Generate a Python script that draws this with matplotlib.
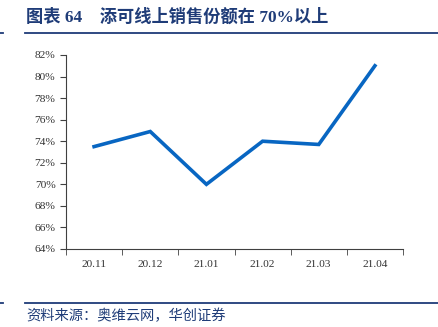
import matplotlib
matplotlib.use("Agg")
import matplotlib.pyplot as plt
from matplotlib.lines import Line2D
from matplotlib.ticker import FuncFormatter, FixedLocator

categories = ["20.11", "20.12", "21.01", "21.02", "21.03", "21.04"]
values = [73.5, 74.9, 70.0, 74.0, 73.7, 81.0]
title = "图表 64    添可线上销售份额在 70%以上"
source = "资料来源：奥维云网，华创证券"

W, H = 438, 327
fig = plt.figure(figsize=(W / 100, H / 100), dpi=100)
ax = fig.add_axes([66 / W, (H - 249) / H, (403 - 66) / W, (249 - 55) / H])

x = list(range(len(categories)))
ax.plot(x, values, color="#0866C2", lw=2.6, solid_joinstyle="miter")
ax.set_xlim(-0.5, len(categories) - 0.5)
ax.set_ylim(64, 82)
ax.set_yticks(range(64, 83, 2))
ax.yaxis.set_major_formatter(FuncFormatter(lambda v, p: f"{int(v)}%"))
ax.set_xticks(x)
ax.set_xticklabels(categories)
ax.xaxis.set_minor_locator(FixedLocator([i - 0.5 for i in range(len(categories) + 1)]))
ax.tick_params(axis="x", which="major", length=0, pad=8)
ax.tick_params(axis="x", which="minor", length=4, direction="out", color="#404040")
ax.tick_params(axis="y", length=4, direction="out", color="#404040")
for lab in ax.get_xticklabels() + ax.get_yticklabels():
    lab.set_fontfamily("Liberation Serif")
    lab.set_fontsize(8.2)
    lab.set_color("#333333")
ax.spines["top"].set_visible(False)
ax.spines["right"].set_visible(False)
ax.spines["left"].set_color("#404040")
ax.spines["bottom"].set_color("#404040")

navy = "#1F3C78"
fig.text(26 / W, 1 - 17 / H, title, fontsize=12.4, fontweight="bold", color=navy,
         family=["Liberation Serif", "Noto Sans CJK SC"], va="center", ha="left")
fig.add_artist(Line2D([25 / W, 1], [1 - 33 / H, 1 - 33 / H], color=navy, lw=1.3))
fig.add_artist(Line2D([0, 3 / W], [1 - 33 / H, 1 - 33 / H], color=navy, lw=1.3))
fig.add_artist(Line2D([25 / W, 1], [1 - 303 / H, 1 - 303 / H], color=navy, lw=1.3))
fig.add_artist(Line2D([0, 3 / W], [1 - 303 / H, 1 - 303 / H], color=navy, lw=1.3))
fig.text(26 / W, 1 - 316 / H, source, fontsize=10.3, color=navy, style="italic",
         family=["Noto Sans CJK SC", "DejaVu Sans"], va="center", ha="left")

fig.savefig("out.png", dpi=100)
